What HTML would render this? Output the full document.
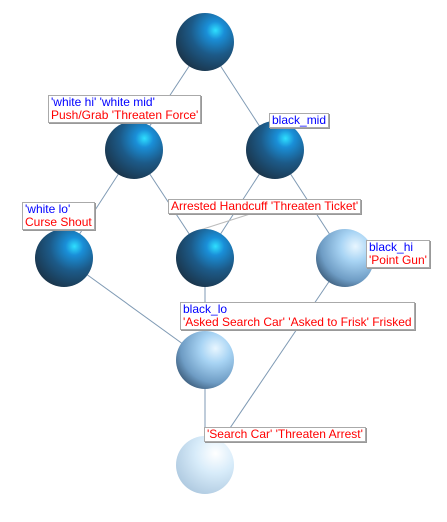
<!DOCTYPE html>
<html><head><style>
body{margin:0;background:#fff;width:447px;height:522px;position:relative;overflow:hidden;font-family:"Liberation Sans",sans-serif;font-size:12px}
.l{position:absolute;background:#fff;border:1px solid #aaa;box-shadow:1px 1px 0 #999;padding:0 2px;line-height:13px;white-space:nowrap}
.b{color:#00f}.r{color:#f00}
</style></head><body>
<svg width="447" height="522" style="position:absolute;left:0;top:0">
<defs>
<radialGradient id="d" cx="0.68" cy="0.3" r="0.85"><stop offset="0" stop-color="#2ee0ff"/><stop offset="0.18" stop-color="#1a8fd8"/><stop offset="0.5" stop-color="#1c5a88"/><stop offset="1" stop-color="#1a2c3c"/></radialGradient>
<radialGradient id="m" cx="0.68" cy="0.3" r="0.85"><stop offset="0" stop-color="#e8f6ff"/><stop offset="0.3" stop-color="#a8d4f4"/><stop offset="0.7" stop-color="#6e9cc4"/><stop offset="1" stop-color="#2e4a66"/></radialGradient>
<radialGradient id="w" cx="0.68" cy="0.3" r="0.85"><stop offset="0" stop-color="#ffffff"/><stop offset="0.4" stop-color="#d8ecfa"/><stop offset="1" stop-color="#a8c4dc"/></radialGradient>
</defs>
<g stroke="#7f9ab4" stroke-width="1">
<line x1="205" y1="42" x2="134" y2="150"/><line x1="205" y1="42" x2="275" y2="150"/>
<line x1="134" y1="150" x2="64" y2="258"/><line x1="134" y1="150" x2="205" y2="258"/>
<line x1="275" y1="150" x2="205" y2="258"/><line x1="275" y1="150" x2="345" y2="258"/>
<line x1="64" y1="258" x2="205" y2="360"/><line x1="205" y1="258" x2="205" y2="360"/>
<line x1="345" y1="258" x2="205" y2="465"/><line x1="205" y1="360" x2="205" y2="465"/>
</g>
<line x1="250" y1="214" x2="200" y2="230" stroke="#bbb"/>
<circle cx="205" cy="42" r="29" fill="url(#d)"/>
<circle cx="134" cy="150" r="29" fill="url(#d)"/>
<circle cx="275" cy="150" r="29" fill="url(#d)"/>
<circle cx="64" cy="258" r="29" fill="url(#d)"/>
<circle cx="205" cy="258" r="29" fill="url(#d)"/>
<circle cx="345" cy="258" r="29" fill="url(#m)"/>
<circle cx="205" cy="360" r="29" fill="url(#m)"/>
<circle cx="205" cy="465" r="29" fill="url(#w)"/>
</svg>
<div class="l" style="left:48px;top:95px"><div class="b">'white hi' 'white mid'</div><div class="r">Push/Grab 'Threaten Force'</div></div>
<div class="l" style="left:269px;top:113px"><div class="b">black_mid</div></div>
<div class="l" style="left:22px;top:202px"><div class="b">'white lo'</div><div class="r">Curse Shout</div></div>
<div class="l" style="left:168px;top:199px"><div class="r">Arrested Handcuff 'Threaten Ticket'</div></div>
<div class="l" style="left:366px;top:240px"><div class="b">black_hi</div><div class="r">'Point Gun'</div></div>
<div class="l" style="left:180px;top:302px"><div class="b">black_lo</div><div class="r">'Asked Search Car' 'Asked to Frisk' Frisked</div></div>
<div class="l" style="left:204px;top:427px"><div class="r">'Search Car' 'Threaten Arrest'</div></div>
</body></html>
